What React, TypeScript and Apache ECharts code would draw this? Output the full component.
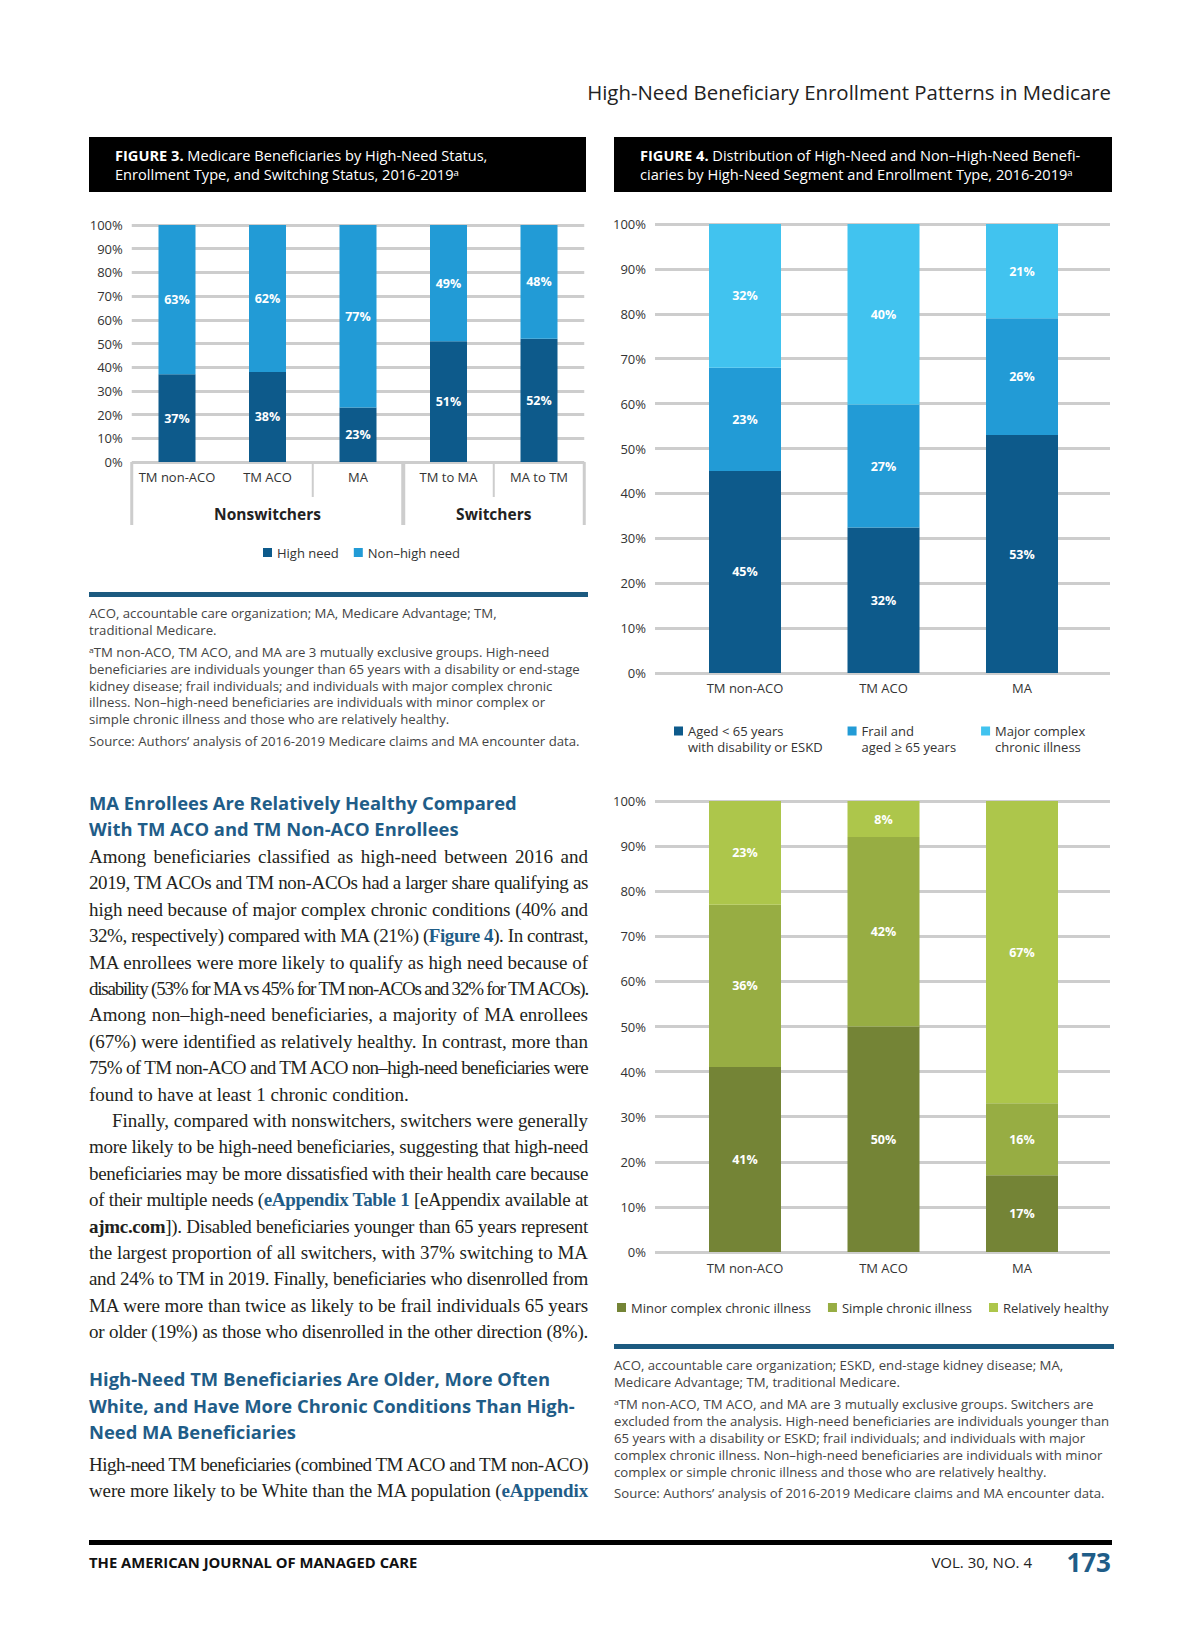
import React, { useEffect, useLayoutEffect, useRef } from 'react';
import * as echarts from 'echarts';

// ---------- DATA ----------
const fig3Categories = ['TM non-ACO', 'TM ACO', 'MA', 'TM to MA', 'MA to TM'];
const fig3Groups = ['Nonswitchers', 'Switchers'];
const fig3HighNeed = [37, 38, 23, 51, 52];
const fig3NonHighNeed = [63, 62, 77, 49, 48];

const fig4Categories = ['TM non-ACO', 'TM ACO', 'MA'];
const fig4Disability = [45, 32.4, 53];
const fig4Frail = [23, 27.4, 26];
const fig4MajorComplex = [32, 40.2, 21];
const fig4MinorComplex = [41, 50, 17];
const fig4SimpleChronic = [36, 42, 16];
const fig4RelHealthy = [23, 8, 67];

const fig3SeriesNames = ['High need', 'Non\u2013high need'];
const fig4TopNames = ['Aged < 65 years\nwith disability or ESKD', 'Frail and\naged \u2265 65 years', 'Major complex\nchronic illness'];
const fig4BottomNames = ['Minor complex chronic illness', 'Simple chronic illness', 'Relatively healthy'];

// ---------- TEXT ----------
const fig3Notes = [
  'ACO, accountable care organization; MA, Medicare Advantage; TM,',
  'traditional Medicare.',
  '\u1d43TM non-ACO, TM ACO, and MA are 3 mutually exclusive groups. High-need',
  'beneficiaries are individuals younger than 65 years with a disability or end-stage',
  'kidney disease; frail individuals; and individuals with major complex chronic',
  'illness. Non\u2013high-need beneficiaries are individuals with minor complex or',
  'simple chronic illness and those who are relatively healthy.',
  'Source: Authors\u2019 analysis of 2016-2019 Medicare claims and MA encounter data.',
];
const fig3NoteY = [613, 630, 652, 669, 686, 702, 719, 741];
const fig4Notes = [
  'ACO, accountable care organization; ESKD, end-stage kidney disease; MA,',
  'Medicare Advantage; TM, traditional Medicare.',
  '\u1d43TM non-ACO, TM ACO, and MA are 3 mutually exclusive groups. Switchers are',
  'excluded from the analysis. High-need beneficiaries are individuals younger than',
  '65 years with a disability or ESKD; frail individuals; and individuals with major',
  'complex chronic illness. Non\u2013high-need beneficiaries are individuals with minor',
  'complex or simple chronic illness and those who are relatively healthy.',
  'Source: Authors\u2019 analysis of 2016-2019 Medicare claims and MA encounter data.',
];
const fig4NoteY = [1365, 1382, 1404, 1421, 1438, 1455, 1472, 1493];

const h1Lines = ['MA Enrollees Are Relatively Healthy Compared', 'With TM ACO and TM Non-ACO Enrollees'];
const p1Lines = [
  'Among beneficiaries classified as high-need between 2016 and',
  '2019, TM ACOs and TM non-ACOs had a larger share qualifying as',
  'high need because of major complex chronic conditions (40% and',
  '32%, respectively) compared with MA (21%) ([[Figure 4]]). In contrast,',
  'MA enrollees were more likely to qualify as high need because of',
  'disability (53% for MA vs 45% for TM non-ACOs and 32% for TM ACOs).',
  'Among non\u2013high-need beneficiaries, a majority of MA enrollees',
  '(67%) were identified as relatively healthy. In contrast, more than',
  '75% of TM non-ACO and TM ACO non\u2013high-need beneficiaries were',
  'found to have at least 1 chronic condition.',
];
const p2Lines = [
  'Finally, compared with nonswitchers, switchers were generally',
  'more likely to be high-need beneficiaries, suggesting that high-need',
  'beneficiaries may be more dissatisfied with their health care because',
  'of their multiple needs ([[eAppendix Table 1]] [eAppendix available at',
  '**ajmc.com**]). Disabled beneficiaries younger than 65 years represent',
  'the largest proportion of all switchers, with 37% switching to MA',
  'and 24% to TM in 2019. Finally, beneficiaries who disenrolled from',
  'MA were more than twice as likely to be frail individuals 65 years',
  'or older (19%) as those who disenrolled in the other direction (8%).',
];
const h2Lines = ['High-Need TM Beneficiaries Are Older, More Often', 'White, and Have More Chronic Conditions Than High-', 'Need MA Beneficiaries'];
const p3Lines = [
  'High-need TM beneficiaries (combined TM ACO and TM non-ACO)',
  'were more likely to be White than the MA population ([[eAppendix]]',
];

// ---------- STYLE ----------
const FONT = '"Open Sans", "Noto Sans", "DejaVu Sans", sans-serif';
const SERIF = '"Liberation Serif", "DejaVu Serif", serif';
const GRIDC = '#cdcdcd';
const BLUE_HEAD = '#1f5d88';
const C3 = ['#0d5a8b', '#229bd6'];
const C4T = ['#0d5a8b', '#229bd6', '#41c3ef'];
const C4B = ['#748436', '#97ad43', '#adc64b'];
// legend marker: 9x9 square at the top of a taller box, so it sits beside the first of two text lines
const TOP_SQUARE = 'path://M0,0L9,0L9,9L0,9Z M0,25L0.01,25L0.01,25.01L0,25.01Z';

const F3 = { left: 131.75, top: 225, width: 452.5, height: 237 };
const F4X = { barLeft: 675.75, barWidth: 415.5, bgLeft: 655, bgWidth: 455 };
const F4T = { top: 224, height: 449 };
const F4B = { top: 801, height: 451 };

const pct = (p: any) => Math.round(p.value) + '%';

function txt(text: string, x: number, y: number, o: any = {}) {
  return {
    type: 'text', x, y, silent: true,
    style: {
      text, fill: o.fill || '#3a3a3a', fontSize: o.size || 13, fontFamily: o.family || FONT,
      fontWeight: o.weight || 'normal', align: o.align || 'left', textAlign: o.align || 'left',
      verticalAlign: o.va || 'middle', textVerticalAlign: o.va || 'middle',
      lineHeight: o.lh, rich: o.rich,
    },
  };
}
function vline(x: number, y1: number, y2: number, w: number) {
  return { type: 'line', silent: true, shape: { x1: x, y1, x2: x, y2 }, style: { stroke: GRIDC, lineWidth: w } };
}

function barSeries(name: string, data: number[], color: string, xi: number, stack: string, width: number) {
  return {
    name, type: 'bar', xAxisIndex: xi, yAxisIndex: xi, stack, barWidth: width, data,
    itemStyle: { color }, emphasis: { disabled: true },
    label: { show: true, position: 'inside', color: '#ffffff', fontWeight: 'bold', fontSize: 12.5, fontFamily: FONT, formatter: pct },
  };
}

function valueAxis(gi: number, showLines: boolean) {
  return {
    gridIndex: gi, type: 'value', min: 0, max: 100, interval: 10,
    axisLine: { show: false }, axisTick: { show: false },
    axisLabel: { show: showLines, formatter: '{value}%', color: '#333', fontSize: 13, fontFamily: FONT, margin: 9 },
    splitLine: { show: showLines, lineStyle: { color: GRIDC, width: 3 } },
  };
}
function catAxis(gi: number, data: string[], show: boolean, margin: number) {
  return {
    gridIndex: gi, type: 'category', data, show,
    axisLine: { show: false }, axisTick: { show: false },
    axisLabel: { color: '#333', fontSize: 13, fontFamily: FONT, margin, interval: 0 },
  };
}

function buildOption() {
  const band = F3.width / fig3Categories.length;
  const base = F3.top + F3.height;
  const titleRich = { b: { fontWeight: 'bold', fontSize: 14.6, fill: '#fff', fontFamily: FONT, lineHeight: 19 } };
  const graphic: any[] = [
    txt('High-Need Beneficiary Enrollment Patterns in Medicare', 1111, 91.5, { size: 20.4, fill: '#222', align: 'right' }),
    // figure 3 header
    { type: 'rect', silent: true, shape: { x: 89, y: 137, width: 497, height: 55 }, style: { fill: '#000' } },
    txt('{b|FIGURE 3.} Medicare Beneficiaries by High-Need Status,\nEnrollment Type, and Switching Status, 2016-2019\u1d43', 115, 145.5,
      { size: 14.6, fill: '#fff', va: 'top', lh: 19, rich: titleRich }),
    // figure 4 header
    { type: 'rect', silent: true, shape: { x: 614, y: 137, width: 498, height: 55 }, style: { fill: '#000' } },
    txt('{b|FIGURE 4.} Distribution of High-Need and Non\u2013High-Need Benefi-\nciaries by High-Need Segment and Enrollment Type, 2016-2019\u1d43', 640, 145.5,
      { size: 14.6, fill: '#fff', va: 'top', lh: 19, rich: titleRich }),
    // figure 3 bracket
    vline(F3.left, base, 525, 3),
    vline(F3.left + 2 * band, base, 497, 2),
    vline(F3.left + 3 * band, base, 525, 4),
    vline(F3.left + 4 * band, base, 497, 2),
    vline(F3.left + F3.width, base, 525, 3),
    txt(fig3Groups[0], F3.left + 1.5 * band, 514, { size: 15.5, weight: 'bold', fill: '#222', align: 'center' }),
    txt(fig3Groups[1], F3.left + 4 * band, 514, { size: 15.5, weight: 'bold', fill: '#222', align: 'center' }),
    // rules
    { type: 'rect', silent: true, shape: { x: 89, y: 592, width: 499, height: 5 }, style: { fill: '#1c5a80' } },
    { type: 'rect', silent: true, shape: { x: 614, y: 1344, width: 500, height: 5 }, style: { fill: '#1c5a80' } },
    { type: 'rect', silent: true, shape: { x: 89, y: 1540, width: 1023, height: 5 }, style: { fill: '#000' } },
    txt('THE AMERICAN JOURNAL OF MANAGED CARE', 89, 1562, { size: 14.8, weight: 'bold', fill: '#111' }),
    txt('VOL. 30, NO. 4', 1032, 1562, { size: 15, fill: '#222', align: 'right' }),
    txt('173', 1111, 1562, { size: 26, weight: 'bold', fill: BLUE_HEAD, align: 'right' }),
  ];
  fig3Notes.forEach((t, i) => graphic.push(txt(t, 89, fig3NoteY[i], { size: 13.2, fill: '#444' })));
  fig4Notes.forEach((t, i) => graphic.push(txt(t, 614, fig4NoteY[i], { size: 13.2, fill: '#444' })));

  const legendText = { fontSize: 13, color: '#333', fontFamily: FONT };
  return {
    animation: false,
    grid: [
      { left: F3.left, top: F3.top, width: F3.width, height: F3.height },
      { left: F4X.bgLeft, top: F4T.top, width: F4X.bgWidth, height: F4T.height },
      { left: F4X.barLeft, top: F4T.top, width: F4X.barWidth, height: F4T.height },
      { left: F4X.bgLeft, top: F4B.top, width: F4X.bgWidth, height: F4B.height },
      { left: F4X.barLeft, top: F4B.top, width: F4X.barWidth, height: F4B.height },
    ],
    xAxis: [
      catAxis(0, fig3Categories, true, 8),
      catAxis(1, [''], false, 0),
      catAxis(2, fig4Categories, true, 8),
      catAxis(3, [''], false, 0),
      catAxis(4, fig4Categories, true, 9),
    ],
    yAxis: [valueAxis(0, true), valueAxis(1, true), valueAxis(2, false), valueAxis(3, true), valueAxis(4, false)],
    legend: [
      { data: fig3SeriesNames, left: 263, top: 546, icon: 'rect', itemWidth: 9, itemHeight: 9, itemGap: 15, padding: 0, selectedMode: false, textStyle: legendText },
      { data: fig4TopNames, left: 674, top: 723, icon: TOP_SQUARE, itemWidth: 9, itemHeight: 25, itemGap: 25, padding: 0, selectedMode: false,
        textStyle: { ...legendText, lineHeight: 16 } },
      { data: fig4BottomNames, left: 617, top: 1301, icon: 'rect', itemWidth: 9, itemHeight: 9, itemGap: 17, padding: 0, selectedMode: false, textStyle: legendText },
    ],
    series: [
      barSeries(fig3SeriesNames[0], fig3HighNeed, C3[0], 0, 'f3', 37),
      barSeries(fig3SeriesNames[1], fig3NonHighNeed, C3[1], 0, 'f3', 37),
      barSeries(fig4TopNames[0], fig4Disability, C4T[0], 2, 'f4t', 72),
      barSeries(fig4TopNames[1], fig4Frail, C4T[1], 2, 'f4t', 72),
      barSeries(fig4TopNames[2], fig4MajorComplex, C4T[2], 2, 'f4t', 72),
      barSeries(fig4BottomNames[0], fig4MinorComplex, C4B[0], 4, 'f4b', 72),
      barSeries(fig4BottomNames[1], fig4SimpleChronic, C4B[1], 4, 'f4b', 72),
      barSeries(fig4BottomNames[2], fig4RelHealthy, C4B[2], 4, 'f4b', 72),
    ],
    graphic,
  };
}

// ---------- BODY TEXT ----------
function renderSegs(line: string) {
  const parts = line.split(/(\[\[.*?\]\]|\*\*.*?\*\*)/);
  return parts.filter((p) => p !== '').map((p, i) => {
    if (p.startsWith('[[')) return <b key={i} style={{ color: BLUE_HEAD }}>{p.slice(2, -2)}</b>;
    if (p.startsWith('**')) return <b key={i}>{p.slice(2, -2)}</b>;
    return <React.Fragment key={i}>{p}</React.Fragment>;
  });
}

type LineSpec = { text: string; y: number; left: number; width: number; justify: boolean; kind: 'h' | 'p' };

function buildLines(): LineSpec[] {
  const L: LineSpec[] = [];
  const LH = 26.4;
  h1Lines.forEach((t, i) => L.push({ text: t, y: 803 + i * 26, left: 89, width: 499, justify: false, kind: 'h' }));
  p1Lines.forEach((t, i) => L.push({ text: t, y: 857 + i * LH, left: 89, width: 499, justify: i < p1Lines.length - 1, kind: 'p' }));
  p2Lines.forEach((t, i) => L.push({ text: t, y: 1121 + i * LH, left: i === 0 ? 112 : 89, width: i === 0 ? 476 : 499, justify: true, kind: 'p' }));
  h2Lines.forEach((t, i) => L.push({ text: t, y: 1379 + i * 26.5, left: 89, width: 499, justify: false, kind: 'h' }));
  p3Lines.forEach((t, i) => L.push({ text: t, y: 1465 + i * LH, left: 89, width: 499, justify: true, kind: 'p' }));
  return L;
}

function Body() {
  const ref = useRef<HTMLDivElement>(null);
  useLayoutEffect(() => {
    const fit = () => {
      const root = ref.current;
      if (!root) return;
      root.querySelectorAll<HTMLDivElement>('[data-jl]').forEach((el) => {
        const span = el.firstElementChild as HTMLSpanElement;
        const avail = parseFloat(el.style.width);
        const just = el.getAttribute('data-jl') === '1';
        span.style.letterSpacing = '0px';
        el.style.textAlignLast = 'left';
        const w = span.getBoundingClientRect().width;
        const n = (span.textContent || '').length;
        if (w > avail - 0.5) span.style.letterSpacing = `${-(w - avail + 1) / n}px`;
        el.style.textAlignLast = just ? 'justify' : 'left';
      });
    };
    fit();
    (document as any).fonts?.ready?.then(fit);
  }, []);
  const lines = buildLines();
  return (
    <div ref={ref} style={{ position: 'absolute', left: 0, top: 0, width: 1200, height: 1638, pointerEvents: 'none' }}>
      {lines.map((l, i) => (
        <div key={i} data-jl={l.justify ? '1' : '0'}
          style={{
            position: 'absolute', left: l.left, top: l.y - 13, width: l.width, height: 26, lineHeight: '26px',
            whiteSpace: 'nowrap', textAlign: l.justify ? 'justify' : 'left', textAlignLast: l.justify ? 'justify' : 'left',
            fontFamily: l.kind === 'h' ? FONT : SERIF, fontSize: l.kind === 'h' ? 18.4 : 19,
            fontWeight: l.kind === 'h' ? 700 : 400, color: l.kind === 'h' ? BLUE_HEAD : '#231f20',
          }}>
          <span>{renderSegs(l.text)}</span>
        </div>
      ))}
    </div>
  );
}

export default function App() {
  const ref = useRef<HTMLDivElement>(null);
  useEffect(() => {
    const chart = echarts.init(ref.current!, null, { renderer: 'svg' });
    chart.setOption(buildOption() as any);
    return () => chart.dispose();
  }, []);
  return (
    <div style={{ position: 'absolute', left: 0, top: 0, width: 1200, height: 1638, background: '#fff', overflow: 'hidden' }}>
      <div ref={ref} style={{ position: 'absolute', left: 0, top: 0, width: 1200, height: 1638 }} />
      <Body />
    </div>
  );
}
